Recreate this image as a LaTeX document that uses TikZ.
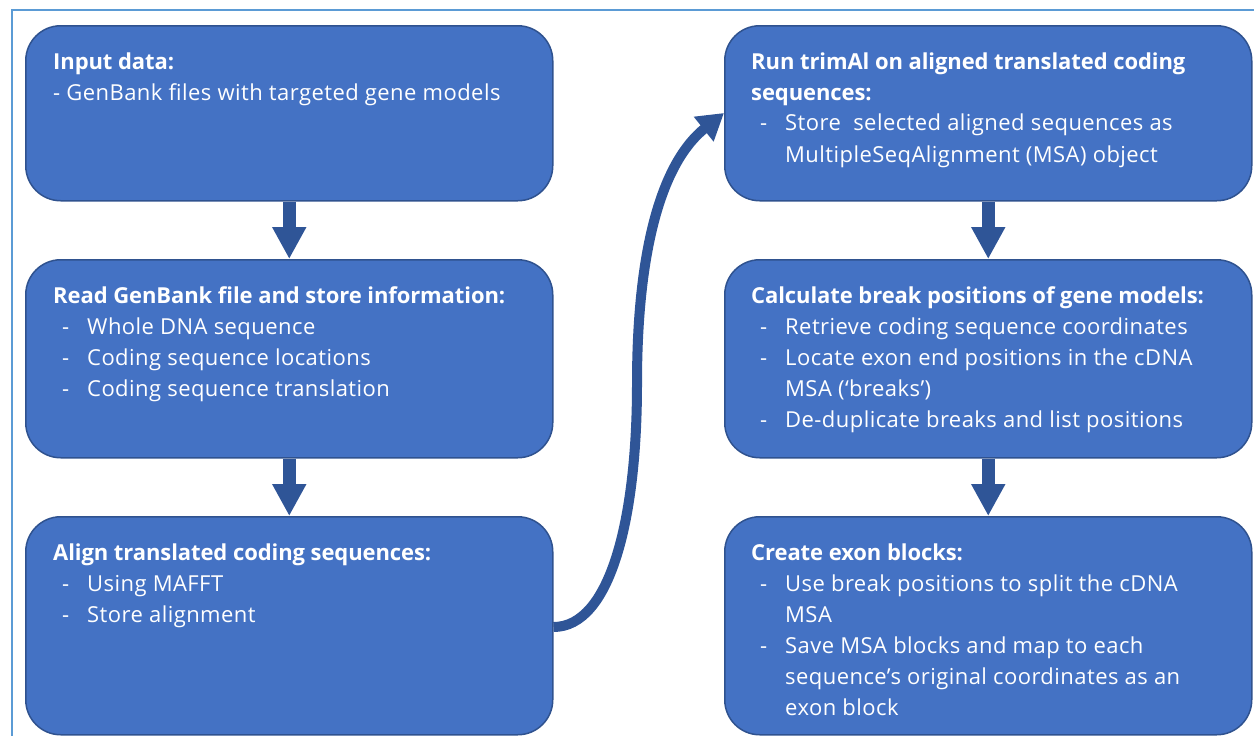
\documentclass[tikz,border=0pt]{standalone}
\usepackage{fontspec}
\setmainfont{Open Sans}[LetterSpace=2.0,BoldFeatures={LetterSpace=-0.4}]
\usetikzlibrary{arrows.meta,calc}
\definecolor{boxfill}{HTML}{4472C4}
\definecolor{boxline}{HTML}{2F528F}
\definecolor{arrowcol}{HTML}{2F5597}
\definecolor{framecol}{HTML}{5B9BD5}
\newcommand{\itm}[1]{\hspace*{9pt}\makebox[25pt][l]{-}#1}
\newcommand{\cnt}[1]{\hspace*{34pt}#1}
\begin{document}
\begin{tikzpicture}[x=1pt,y=-1pt,
  box/.style={draw=boxline,line width=1.5pt,fill=boxfill,rounded corners=35pt,
    minimum width=527pt,anchor=north west,inner sep=0pt},
  txt/.style={anchor=base west,inner sep=0pt,text=white,
    font=\fontsize{22}{31}\selectfont},
  flow/.style={draw=arrowcol,line width=13pt,-{Triangle[width=32pt,length=32pt]}},
  curv/.style={draw=arrowcol,line width=10pt,-{Triangle[width=30pt,length=26pt]}}]
\useasboundingbox (0,0) rectangle (1254,736);
\draw[framecol,line width=2pt] (1254,10) -- (12,10) -- (12,736);
% boxes
\node[box,minimum height=175pt] (b1) at (25,25) {};
\node[box,minimum height=198pt] (b2) at (25,259) {};
\node[box,minimum height=218pt] (b3) at (25,516) {};
\node[box,minimum height=175pt] (b4) at (724,25) {};
\node[box,minimum height=198pt] (b5) at (724,259) {};
\node[box,minimum height=218pt] (b6) at (724,516) {};
% texts
\node[txt] (t1) at ($(b1.north west)+(28,44)$) {\begin{tabular}[t]{@{}l@{}}
\textbf{Input data:}\\
- GenBank files with targeted gene models\end{tabular}};
\node[txt] (t2) at ($(b2.north west)+(28,44)$) {\begin{tabular}[t]{@{}l@{}}
\textbf{Read GenBank file and store information:}\\
\itm{Whole DNA sequence}\\
\itm{Coding sequence locations}\\
\itm{Coding sequence translation}\end{tabular}};
\node[txt] (t3) at ($(b3.north west)+(28,44)$) {\begin{tabular}[t]{@{}l@{}}
\textbf{Align translated coding sequences:}\\
\itm{Using MAFFT}\\
\itm{Store alignment}\end{tabular}};
\node[txt] (t4) at ($(b4.north west)+(27,44)$) {\begin{tabular}[t]{@{}l@{}}
\textbf{Run trimAl on aligned translated coding}\\
\textbf{sequences:}\\
\itm{Store\ \ selected aligned sequences as}\\
\cnt{MultipleSeqAlignment (MSA) object}\end{tabular}};
\node[txt] (t5) at ($(b5.north west)+(27,44)$) {\begin{tabular}[t]{@{}l@{}}
\textbf{Calculate break positions of gene models:}\\
\itm{Retrieve coding sequence coordinates}\\
\itm{Locate exon end positions in the cDNA}\\
\cnt{MSA (‘breaks’)}\\
\itm{De-duplicate breaks and list positions}\end{tabular}};
\node[txt] (t6) at ($(b6.north west)+(27,44)$) {\begin{tabular}[t]{@{}l@{}}
\textbf{Create exon blocks:}\\
\itm{Use break positions to split the cDNA}\\
\cnt{MSA}\\
\itm{Save MSA blocks and map to each}\\
\cnt{sequence’s original coordinates as an}\\
\cnt{exon block}\end{tabular}};
% arrows
\draw[flow] (b1.south) -- (b2.north);
\draw[flow] (b2.south) -- (b3.north);
\draw[flow] (b4.south) -- (b5.north);
\draw[flow] (b5.south) -- (b6.north);
\coordinate (c1) at ($(b3.north east)+(0,111)$);
\coordinate (c2) at ($(b4.north west)+(0,88)$);
\draw[curv,line cap=butt] (c1) .. controls (610,627) and (637,520) .. (637,384)
  .. controls (637,240) and (665,160) .. (c2);
\end{tikzpicture}
\end{document}
